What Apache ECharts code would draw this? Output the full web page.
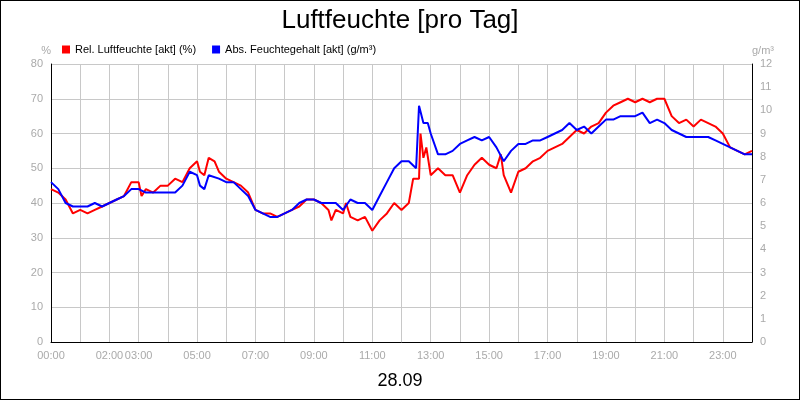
<!DOCTYPE html>
<html><head><meta charset="utf-8">
<script src="https://cdn.jsdelivr.net/npm/echarts@6/dist/echarts.min.js"></script>
<style>html,body{margin:0;padding:0;background:#fff}#c{width:798px;height:398px;border:1px solid #000}</style>
</head><body><div id="c"></div>
<script>
const relTimes=[0,0.25,0.5,0.75,1,1.25,1.5,1.75,2,2.25,2.5,2.75,3,3.1,3.25,3.5,3.75,4,4.25,4.5,4.75,5,5.1,5.25,5.4,5.6,5.75,6,6.25,6.5,6.75,7,7.25,7.5,7.75,8,8.25,8.5,8.75,9,9.25,9.5,9.6,9.75,10,10.1,10.25,10.5,10.75,11,11.25,11.5,11.75,12,12.25,12.4,12.6,12.65,12.75,12.85,13,13.25,13.5,13.75,14,14.25,14.5,14.75,15,15.25,15.4,15.5,15.75,16,16.25,16.5,16.75,17,17.25,17.5,17.75,18,18.25,18.5,18.75,19,19.25,19.5,19.75,20,20.25,20.5,20.75,21,21.25,21.5,21.75,22,22.25,22.5,22.75,23,23.25,23.5,23.75,24];
const relHum=[44,43,41,37,38,37,38,39,40,41,42,46,46,42,44,43,45,45,47,46,50,52,49,48,53,52,49,47,46,45,43,38,37,37,36,37,38,39,41,41,40,38,35,38,37,40,36,35,36,32,35,37,40,38,40,47,47,60,53,56,48,50,48,48,43,48,51,53,51,50,54,48,43,49,50,52,53,55,56,57,59,61,60,62,63,66,68,69,70,69,70,69,70,70,65,63,64,62,64,63,62,60,56,55,54,55];
const absTimes=[0,0.25,0.5,0.75,1,1.25,1.5,1.75,2,2.25,2.5,2.75,3,3.25,3.5,3.75,4,4.25,4.5,4.75,5,5.1,5.25,5.4,5.75,6,6.25,6.5,6.75,7,7.25,7.5,7.75,8,8.25,8.5,8.75,9,9.25,9.5,9.75,10,10.25,10.5,10.75,11,11.25,11.5,11.75,12,12.25,12.5,12.6,12.75,12.9,13,13.25,13.5,13.75,14,14.25,14.5,14.75,15,15.25,15.5,15.75,16,16.25,16.5,16.75,17,17.25,17.5,17.75,18,18.25,18.5,18.75,19,19.25,19.5,19.75,20,20.25,20.5,20.75,21,21.25,21.5,21.75,22,22.25,22.5,22.75,23,23.25,23.5,23.75,24];
const absHum=[6.9,6.6,6.0,5.85,5.85,5.85,6.0,5.85,6.0,6.15,6.3,6.6,6.6,6.45,6.45,6.45,6.45,6.45,6.75,7.35,7.2,6.75,6.6,7.2,7.05,6.9,6.9,6.6,6.3,5.7,5.55,5.4,5.4,5.55,5.7,6.0,6.15,6.15,6.0,6.0,6.0,5.7,6.15,6.0,6.0,5.7,6.3,6.9,7.5,7.8,7.8,7.5,10.2,9.45,9.45,9.0,8.1,8.1,8.25,8.55,8.7,8.85,8.7,8.85,8.4,7.8,8.25,8.55,8.55,8.7,8.7,8.85,9.0,9.15,9.45,9.15,9.3,9.0,9.3,9.6,9.6,9.75,9.75,9.75,9.9,9.45,9.6,9.45,9.15,9.0,8.85,8.85,8.85,8.85,8.7,8.55,8.4,8.25,8.1,8.1];
const shownHours=[0,2,3,5,7,9,11,13,15,17,19,21,23];
const pair=(t,v)=>t.map((x,i)=>[x,v[i]]);
const pad=h=>(h<10?'0':'')+h+':00';
const c=echarts.init(document.getElementById('c'));
const lab={color:'#aaa',fontSize:11,fontFamily:'Arial'};
c.setOption({
 animation:false,
 title:[{text:'Luftfeuchte [pro Tag]',left:'center',top:2,textStyle:{fontSize:26,fontWeight:'normal',color:'#000',fontFamily:'Arial'}},
  {text:'28.09',left:'center',top:366,textStyle:{fontSize:18,fontWeight:'normal',color:'#000',fontFamily:'Arial'}}],
 legend:{left:56,top:38,itemWidth:8,itemHeight:8,itemGap:16,icon:'rect',textStyle:{fontSize:11,color:'#000',fontFamily:'Arial'},
  data:['Rel. Luftfeuchte [akt] (%)','Abs. Feuchtegehalt [akt] (g/m³)']},
 grid:{left:50,right:47,top:63,bottom:57},
 xAxis:{type:'value',min:0,max:24,interval:1,
  axisLine:{lineStyle:{color:'#000'}},axisTick:{show:false},
  splitLine:{lineStyle:{color:'#c8c8c8'}},
  axisLabel:Object.assign({},lab,{formatter:v=>shownHours.includes(v)?pad(v):''})},
 yAxis:[{type:'value',min:0,max:80,interval:10,name:'%',nameGap:8,nameTextStyle:{color:'#aaa',fontSize:11,align:'right'},
   axisLine:{show:true,lineStyle:{color:'#000'}},axisTick:{show:false},splitLine:{lineStyle:{color:'#c8c8c8'}},axisLabel:lab},
  {type:'value',min:0,max:12,interval:1,name:'g/m³',nameGap:8,nameTextStyle:{color:'#aaa',fontSize:11,align:'left'},
   axisLine:{show:true,lineStyle:{color:'#000'}},axisTick:{show:false},splitLine:{show:false},axisLabel:lab}],
 series:[{name:'Rel. Luftfeuchte [akt] (%)',type:'line',yAxisIndex:0,data:pair(relTimes,relHum),symbol:'none',color:'#ff0000',lineStyle:{width:2}},
  {name:'Abs. Feuchtegehalt [akt] (g/m³)',type:'line',yAxisIndex:1,data:pair(absTimes,absHum),symbol:'none',color:'#0000ff',lineStyle:{width:2}}]
});
</script></body></html>
